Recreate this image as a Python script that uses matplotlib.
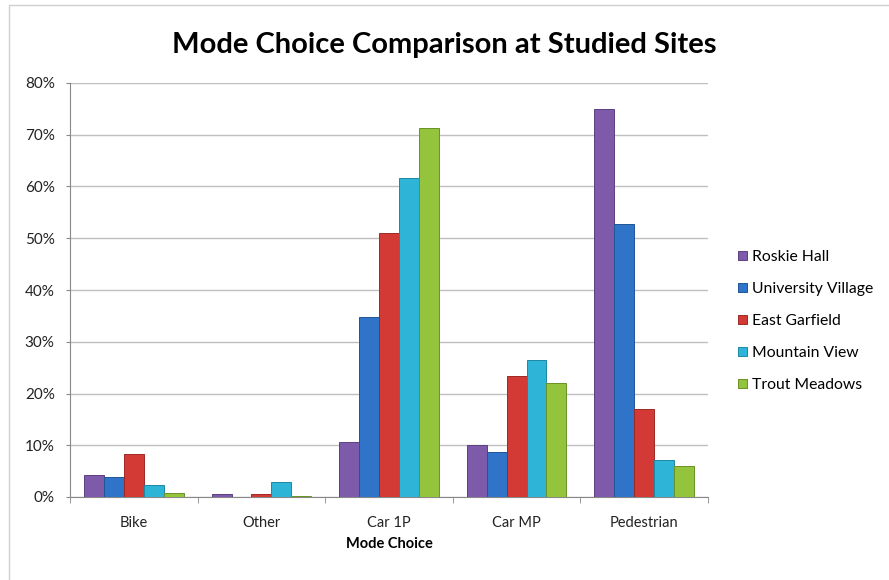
import numpy as np
import matplotlib.pyplot as plt
from matplotlib.patches import Rectangle
from matplotlib.ticker import PercentFormatter

plt.rcParams['font.family'] = ['Lato', 'DejaVu Sans']

# Mode share (%) per site
categories = ['Bike', 'Other', 'Car 1P', 'Car MP', 'Pedestrian']
sites = ['Roskie Hall', 'University Village', 'East Garfield', 'Mountain View', 'Trout Meadows']
roskie_hall = [4.2, 0.5, 10.6, 10.0, 74.9]
university_village = [3.8, 0.0, 34.8, 8.7, 52.8]
east_garfield = [8.3, 0.5, 51.0, 23.4, 17.0]
mountain_view = [2.3, 2.9, 61.6, 26.5, 7.2]
trout_meadows = [0.7, 0.2, 71.3, 22.1, 6.0]
series = [roskie_hall, university_village, east_garfield, mountain_view, trout_meadows]

colors = ['#7E5BAA', '#2F74C8', '#D43A35', '#2DB4D6', '#93C43B']
edges = ['#5B3F80', '#1F5596', '#9E2824', '#1E87A3', '#6A9126']

fig = plt.figure(figsize=(8.89, 5.8), dpi=100)
ax = fig.add_axes([70 / 889, 83 / 580, 638 / 889, 414 / 580])

x = np.arange(len(categories))
width = 0.156
for i, vals in enumerate(series):
    offs = (i - 2) * width
    ax.bar(x + offs, vals, width, color=colors[i], edgecolor=edges[i],
           linewidth=0.7, label=sites[i], zorder=3)

ax.set_xlim(-0.5, len(categories) - 0.5)
ax.set_ylim(0, 80)
ax.set_yticks(np.arange(0, 81, 10))
ax.yaxis.set_major_formatter(PercentFormatter(decimals=0))
ax.set_xticks(x)
ax.set_xticklabels(categories)
ax.set_xticks(np.arange(-0.5, len(categories), 1), minor=True)
ax.tick_params(axis='x', which='major', length=0, pad=14, labelsize=10.5, colors='#222222')
ax.tick_params(axis='x', which='minor', length=4, color='#888888', direction='out')
ax.tick_params(axis='y', length=3, color='#888888', labelcolor='#222222', labelsize=11, pad=8)

ax.grid(axis='y', color='#BFBFBF', linewidth=1, zorder=0)
for s in ['top', 'right']:
    ax.spines[s].set_visible(False)
ax.spines['left'].set_color('#888888')
ax.spines['bottom'].set_color('#888888')

ax.set_xlabel('Mode Choice', fontsize=10.5, fontweight='bold', labelpad=5)
fig.suptitle('Mode Choice Comparison at Studied Sites', fontsize=21, fontweight='bold',
             x=0.5, y=0.945)

ax.legend(loc='center left', bbox_to_anchor=(724 / 889, (580 - 321) / 580),
          bbox_transform=fig.transFigure, frameon=False, fontsize=11.3,
          handlelength=0.55, handleheight=0.55, handletextpad=0.35, labelspacing=1.15)

# light chart-area border on top and left
fig.add_artist(Rectangle((9 / 889, -0.1), 1.2, 0.1 + 575 / 580, transform=fig.transFigure,
                         fill=False, edgecolor='#D0D0D0', linewidth=1))

fig.savefig('out.png', dpi=100)
